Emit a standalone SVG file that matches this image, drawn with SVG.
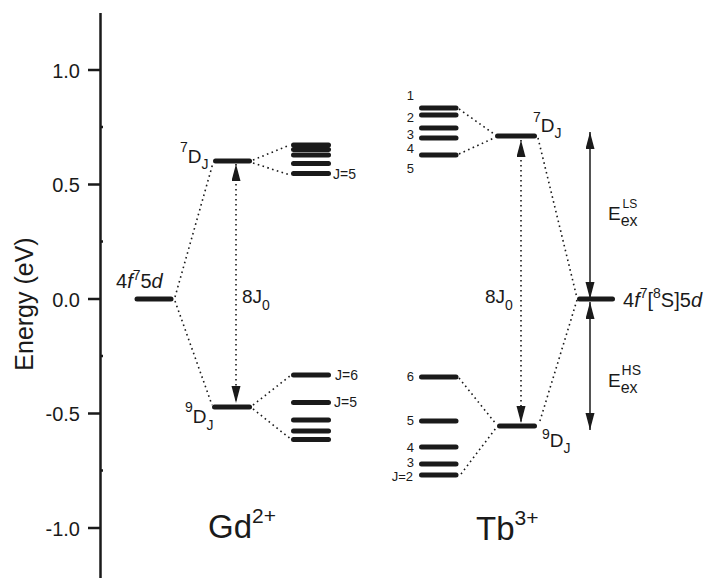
<svg xmlns="http://www.w3.org/2000/svg" width="714" height="578" viewBox="0 0 714 578">
  <style>
    text { font-family: "Liberation Sans", Arial, sans-serif; fill: #1a1a1a; }
    .tick { font-size: 20px; text-anchor: end; }
    .axis { stroke: #1a1a1a; stroke-width: 2.5; fill: none; }
    .level { stroke: #1a1a1a; stroke-width: 5; stroke-linecap: round; fill: none; }
    .dot { stroke: #1a1a1a; stroke-width: 1.6; stroke-dasharray: 1.6 3.4; fill: none; }
    .solid { stroke: #1a1a1a; stroke-width: 1.5; fill: none; }
    .term { font-size: 19px; }
    .config { font-size: 20px; }
    .sub { font-size: 14px; }
    .j { font-size: 14px; }
    .jn { font-size: 13px; }
    .big { font-size: 33px; }
    .bigsup { font-size: 21px; }
    .it { font-style: italic; }
  </style>
  <defs>
    <marker id="head" markerUnits="userSpaceOnUse" markerWidth="17" markerHeight="10" refX="17" refY="4.5" orient="auto-start-reverse">
      <path d="M0,0 L17,4.5 L0,9 z" fill="#1a1a1a"/>
    </marker>
  </defs>

  <!-- energy axis -->
  <g id="axis">
    <line class="axis" x1="100.5" y1="13" x2="100.5" y2="578"/>
    <path class="axis" d="M88,70H100 M88,184.5H100 M88,299H100 M88,413.5H100 M88,528H100"/>
    <path class="axis" d="M100,127H103 M100,241.5H103 M100,356H103 M100,470.5H103"/>
    <text class="tick" x="80" y="78">1.0</text>
    <text class="tick" x="80" y="192">0.5</text>
    <text class="tick" x="80" y="307">0.0</text>
    <text class="tick" x="80" y="421">-0.5</text>
    <text class="tick" x="80" y="536">-1.0</text>
    <text transform="translate(33,304) rotate(-90)" text-anchor="middle" font-size="25">Energy (eV)</text>
  </g>

  <!-- dotted correlation lines and arrows -->
  <g id="connectors">
    <path class="dot" d="M175,297 L213,163"/>
    <path class="dot" d="M175,301 L212,405"/>
    <path class="dot" d="M253,160 L290,145"/>
    <path class="dot" d="M253,163 L290,175"/>
    <path class="dot" d="M253,405 L290,376"/>
    <path class="dot" d="M253,409 L292,440"/>
    <path class="dot" d="M236,164 L236,403" marker-start="url(#head)" marker-end="url(#head)"/>
    <path class="dot" d="M459,109 L494,134"/>
    <path class="dot" d="M459,154 L494,138"/>
    <path class="dot" d="M459,378 L496,424"/>
    <path class="dot" d="M461,474 L496,428"/>
    <path class="dot" d="M538,138 L577,298"/>
    <path class="dot" d="M577,300 L539,424"/>
    <path class="dot" d="M521,140 L521,423" marker-start="url(#head)" marker-end="url(#head)"/>
    <path class="solid" d="M590,132 L590,299" marker-start="url(#head)" marker-end="url(#head)"/>
    <path class="solid" d="M590,302 L590,430" marker-start="url(#head)" marker-end="url(#head)"/>
  </g>

  <!-- Gd2+ : 4f7 5d configuration -->
  <g id="gd-4f75d">
    <line class="level" x1="137" y1="299" x2="171" y2="299"/>
    <text class="config" x="116" y="288">4<tspan class="it">f</tspan><tspan class="sub" dy="-8">7</tspan><tspan dy="8">5</tspan><tspan class="it">d</tspan></text>
  </g>

  <g id="gd-7DJ">
    <line class="level" x1="215.5" y1="161" x2="249.5" y2="161"/>
    <text class="term" x="180" y="163"><tspan class="sub" dy="-11">7</tspan><tspan dy="11">D</tspan><tspan class="sub" dy="6">J</tspan></text>
  </g>

  <g id="gd-9DJ">
    <line class="level" x1="214.5" y1="407" x2="249.5" y2="407"/>
    <text class="term" x="185" y="423"><tspan class="sub" dy="-11">9</tspan><tspan dy="11">D</tspan><tspan class="sub" dy="7">J</tspan></text>
  </g>

  <g id="gd-7DJ-split">
    <line class="level" x1="293.5" y1="145" x2="328.5" y2="145"/>
    <line class="level" x1="293.5" y1="149.5" x2="328.5" y2="149.5"/>
    <line class="level" x1="293.5" y1="155" x2="328.5" y2="155"/>
    <line class="level" x1="293.5" y1="163.5" x2="328.5" y2="163.5"/>
    <line class="level" x1="293.5" y1="173.5" x2="328.5" y2="173.5"/>
    <text class="j" x="333" y="179">J=5</text>
  </g>

  <g id="gd-9DJ-split">
    <line class="level" x1="293.5" y1="375" x2="328.5" y2="375"/>
    <line class="level" x1="293.5" y1="402.5" x2="328.5" y2="402.5"/>
    <line class="level" x1="293.5" y1="420" x2="328.5" y2="420"/>
    <line class="level" x1="293.5" y1="431" x2="328.5" y2="431"/>
    <line class="level" x1="293.5" y1="439.5" x2="328.5" y2="439.5"/>
    <text class="j" x="335" y="380">J=6</text>
    <text class="j" x="334" y="407">J=5</text>
  </g>

  <g id="gd-exchange">
    <text class="term" x="242" y="303">8J<tspan class="sub" dy="7">0</tspan></text>
  </g>

  <!-- Tb3+ levels -->
  <g id="tb-7DJ">
    <line class="level" x1="497.5" y1="136" x2="534.5" y2="136"/>
    <text class="term" x="533" y="132"><tspan class="sub" dy="-10">7</tspan><tspan dy="10">D</tspan><tspan class="sub" dy="6">J</tspan></text>
  </g>

  <g id="tb-9DJ">
    <line class="level" x1="499.5" y1="426" x2="534.5" y2="426"/>
    <text class="term" x="542" y="447"><tspan class="sub" dy="-8">9</tspan><tspan dy="8">D</tspan><tspan class="sub" dy="6">J</tspan></text>
  </g>

  <g id="tb-7DJ-split">
    <line class="level" x1="421.5" y1="108" x2="456" y2="108"/>
    <line class="level" x1="421.5" y1="115" x2="456" y2="115"/>
    <line class="level" x1="421.5" y1="128" x2="456" y2="128"/>
    <line class="level" x1="421.5" y1="138" x2="456" y2="138"/>
    <line class="level" x1="421.5" y1="155" x2="456" y2="155"/>
    <g class="jn" text-anchor="end">
      <text x="414" y="100">1</text>
      <text x="414" y="122">2</text>
      <text x="414" y="139">3</text>
      <text x="414" y="153">4</text>
      <text x="414" y="173">5</text>
    </g>
  </g>

  <g id="tb-9DJ-split">
    <line class="level" x1="421.5" y1="377" x2="456" y2="377"/>
    <line class="level" x1="421.5" y1="421" x2="456" y2="421"/>
    <line class="level" x1="421.5" y1="447" x2="456" y2="447"/>
    <line class="level" x1="421.5" y1="464" x2="456" y2="464"/>
    <line class="level" x1="421.5" y1="475" x2="456" y2="475"/>
    <g class="jn" text-anchor="end">
      <text x="414" y="381">6</text>
      <text x="414" y="425">5</text>
      <text x="414" y="452">4</text>
      <text x="414" y="467">3</text>
      <text x="413" y="481">J=2</text>
    </g>
  </g>

  <g id="tb-exchange">
    <text class="term" x="485" y="303">8J<tspan class="sub" dy="7">0</tspan></text>
  </g>

  <g id="tb-4f75d">
    <line class="level" x1="579.5" y1="299" x2="612.5" y2="299"/>
    <text class="config" x="623" y="307">4<tspan class="it">f</tspan><tspan class="sub" dy="-9">7</tspan><tspan dy="9">[</tspan><tspan class="sub" dy="-9">8</tspan><tspan dy="9">S]5</tspan><tspan class="it">d</tspan></text>
  </g>

  <g id="tb-exchange-ls">
    <text class="term" x="608" y="220">E<tspan font-size="16" dy="6">ex</tspan><tspan font-size="12" dx="-15" dy="-18">LS</tspan></text>
  </g>

  <g id="tb-exchange-hs">
    <text class="term" x="608" y="387">E<tspan font-size="16" dy="6">ex</tspan><tspan font-size="14" dx="-16" dy="-18">HS</tspan></text>
  </g>

  <!-- ion labels -->
  <g id="ion-gd">
    <text class="big" x="208" y="538">Gd<tspan class="bigsup" dy="-15">2+</tspan></text>
  </g>
  <g id="ion-tb">
    <text class="big" x="476" y="540">Tb<tspan class="bigsup" dy="-15">3+</tspan></text>
  </g>
</svg>
